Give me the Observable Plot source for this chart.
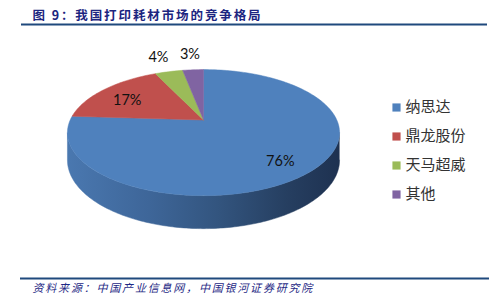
<!DOCTYPE html>
<html><head><meta charset="utf-8">
<script src="https://cdn.jsdelivr.net/npm/d3@7"></script>
<script src="https://cdn.jsdelivr.net/npm/@observablehq/plot@0.6"></script>
<style>body{margin:0;background:#fff;}</style>
</head><body><div id="chart"></div>
<script>
const title = "图 9：我国打印耗材市场的竞争格局";
const source = "资料来源：中国产业信息网，中国银河证券研究院";
const categories = ["纳思达", "鼎龙股份", "天马超威", "其他"];
const values = [76, 17, 4, 3];
const labels = ["76%", "17%", "4%", "3%"];
const colors = ["#4F81BD", "#C0504D", "#9BBB59", "#8064A2"];

const W = 498, H = 308;
// pie geometry (layout)
const cx = 203, cy = 119.5, rx = 133.3, ry = 60.5, k = 0.2, d0 = 26.4;
function proj(theta, f = 1) {
  const s = Math.sin(theta) * f, c = Math.cos(theta) * f;
  const p = 1 + k * c;
  return {x: cx + rx * s / p, y: cy - ry * c / p, depth: d0 / p};
}
const total = d3.sum(values);
let acc = 0;
const slices = values.map((v, i) => {
  const a0 = acc / total * 2 * Math.PI;
  acc += v;
  const a1 = acc / total * 2 * Math.PI;
  return {cat: categories[i], v, a0, a1, label: labels[i]};
});
// top face polygons
const facePts = [];
for (const s of slices) {
  const n = Math.max(4, Math.ceil((s.a1 - s.a0) / (2 * Math.PI) * 240));
  facePts.push({cat: s.cat, ...proj(0, 0)});
  for (let j = 0; j <= n; j++) {
    const t = s.a0 + (s.a1 - s.a0) * j / n;
    facePts.push({cat: s.cat, ...proj(t)});
  }
  facePts.push({cat: s.cat, ...proj(0, 0)});
}
// side (front wall) polygon
const ta = Math.acos(-k), tb = 2 * Math.PI - ta;
const sidePts = [];
const ns = 160;
for (let j = 0; j <= ns; j++) {
  const p = proj(ta + (tb - ta) * j / ns);
  sidePts.push({x: p.x, y: p.y});
}
for (let j = ns; j >= 0; j--) {
  const p = proj(ta + (tb - ta) * j / ns);
  sidePts.push({x: p.x, y: p.y + p.depth});
}
// label positions
const labelPts = slices.map(s => {
  const m = (s.a0 + s.a1) / 2;
  const inside = s.v / total > 0.1;
  const p = proj(m, inside ? 0.75 : 1.38);
  return {label: s.label, x: p.x, y: p.y + (inside ? 4 : 0)};
});
const legendPts = categories.map((c, i) => ({cat: c, x: 396, y: 107 + 29 * i}));

const xLeft = cx - rx * 1.03, xRight = cx + rx * 1.03;
const defs = () => {
  const g = d3.create("svg:defs");
  const lg = g.append("linearGradient").attr("id", "sideGrad")
    .attr("gradientUnits", "userSpaceOnUse")
    .attr("x1", xLeft).attr("x2", xRight).attr("y1", 0).attr("y2", 0);
  [[0, "#4a78b0"], [0.3, "#3e6699"], [0.55, "#33557f"], [0.8, "#263f61"], [1, "#1e3150"]]
    .forEach(([o, c]) => lg.append("stop").attr("offset", o).attr("stop-color", c));
  return g.node();
};

const svg = Plot.plot({
  width: W, height: H,
  margin: 0,
  x: {domain: [0, W], range: [0, W], axis: null},
  y: {domain: [0, H], range: [0, H], axis: null},
  color: {domain: categories, range: colors},
  style: {background: "#fff"},
  marks: [
    defs,
    Plot.line(sidePts, {x: "x", y: "y", fill: "url(#sideGrad)", stroke: "url(#sideGrad)", strokeWidth: 0.5, curve: "linear"}),
    Plot.line(facePts, {x: "x", y: "y", z: "cat", fill: "cat", stroke: "cat", strokeWidth: 0.5, curve: "linear"}),
    Plot.text(labelPts, {x: "x", y: "y", text: "label", fontSize: 14.5, fill: "#111", fontFamily: "Lato, 'Noto Sans CJK SC', sans-serif"}),
    Plot.dot(legendPts, {x: "x", y: "y", symbol: "square", r: 4.6, fill: "cat", stroke: null}),
    Plot.text(legendPts, {x: d => d.x + 9, y: "y", text: "cat", textAnchor: "start", fontSize: 15, fill: "#333", fontFamily: "'Noto Sans CJK SC', sans-serif"}),
    Plot.text([title], {x: 32, y: 15, text: d => d, textAnchor: "start", fontSize: 12.5, fontWeight: "bold", fill: "#1c2580", fontFamily: "'Noto Sans CJK SC', sans-serif"}),
    Plot.ruleY([24], {x1: 21, x2: 487, stroke: "#1f497d", strokeWidth: 2.2}),
    Plot.ruleY([278], {x1: 20, x2: 489, stroke: "#1f497d", strokeWidth: 2.2}),
    Plot.text([source], {x: 32, y: 288, text: d => d, textAnchor: "start", fontSize: 11, fontStyle: "italic", fill: "#1f2a85", fontFamily: "'Noto Sans CJK SC', sans-serif"})
  ]
});
d3.select(svg).selectAll("text").filter(function() { return this.textContent === title; }).style("letter-spacing", "1.9px");
d3.select(svg).selectAll("text").filter(function() { return this.textContent === source; }).style("letter-spacing", "1.8px");
document.getElementById("chart").appendChild(svg);
</script>
</body></html>
